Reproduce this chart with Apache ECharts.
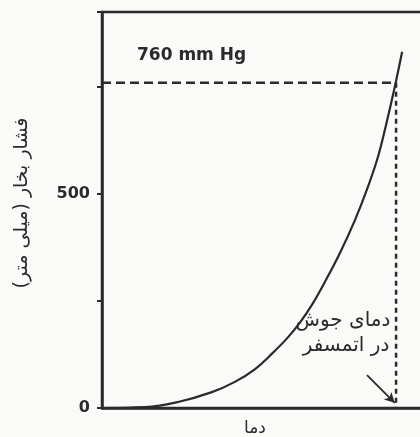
<!DOCTYPE html>
<html>
<head>
<meta charset="utf-8">
<script src="https://cdn.jsdelivr.net/npm/echarts@6/dist/echarts.min.js"></script>
<style>
html,body{margin:0;padding:0;background:#fafaf8;}
#c{width:420px;height:437px;}
</style>
</head>
<body>
<div id="c"></div>
<script>
// Data (temperature in relative units 0-100, pressure in mm Hg)
var curveTemp     = [0, 12.7, 22.5, 32.5, 39.3, 45.3, 50.3, 55.0, 58.6, 62.1, 65.7, 70.4, 74.9, 78.7, 81.7, 84.0, 86.4, 88.8];
var curvePressure = [0, 2,    14,   37,   61,   91,   127,  165,  200,  241,  291,  362,  440,  517,  588,  660,  742,  832];
var atmPressure = 760;
var boilingTemp = 87;
var yTickLabels = ['0', '500'];
var yMax = 925;
var yInterval = 250;
var arrowFrom = [78.4, 77];
var arrowTo = [86.6, 12];

var ink = '#2a2a2a';
var fa = "'DejaVu Sans', 'Noto Sans', sans-serif";

var curveData = curveTemp.map(function (t, i) { return [t, curvePressure[i]]; });

var chart = echarts.init(document.getElementById('c'), null, {renderer: 'canvas'});
chart.setOption({
  backgroundColor: '#fafaf8',
  animation: false,
  grid: {
    left: 102, right: -20, top: 12, bottom: 29,
    containLabel: false, outerBoundsMode: 'none',
    show: true, borderColor: ink, borderWidth: 2.5, backgroundColor: 'transparent'
  },
  xAxis: {
    type: 'value', min: 0, max: 100,
    axisLine: {show: true, onZero: false, lineStyle: {color: ink, width: 2.5}},
    axisTick: {show: false}, axisLabel: {show: false}, splitLine: {show: false},
    name: 'دما', nameLocation: 'middle', nameGap: 12,
    nameTextStyle: {fontFamily: fa, fontSize: 17, color: ink, padding: [0, 32, 0, 0]}
  },
  yAxis: {
    type: 'value', min: 0, max: yMax, interval: yInterval,
    axisLine: {show: true, lineStyle: {color: ink, width: 2.5}},
    axisTick: {show: true, length: 5, lineStyle: {color: ink, width: 2}},
    splitLine: {show: false},
    axisLabel: {
      margin: 12, color: ink, fontFamily: "'DejaVu Sans', sans-serif", fontWeight: 'bold', fontSize: 16,
      formatter: function (v) { var s = String(v); return yTickLabels.indexOf(s) >= 0 ? s : ''; }
    },
    name: 'فشار بخار (میلی متر)', nameLocation: 'middle', nameGap: 70, nameRotate: 90,
    nameTextStyle: {fontFamily: fa, fontSize: 19, color: ink, padding: [0, 0, 0, 14]}
  },
  series: [
    {
      type: 'line', data: curveData, smooth: 0.4, showSymbol: false,
      lineStyle: {color: ink, width: 2.2}, z: 5
    },
    {
      type: 'line', data: [[0, atmPressure], [boilingTemp, atmPressure]], showSymbol: false,
      lineStyle: {color: ink, width: 2.5, type: [9, 5]}, z: 4
    },
    {
      type: 'line', data: [[boilingTemp, atmPressure], [boilingTemp, 0]], showSymbol: false,
      lineStyle: {color: ink, width: 2.5, type: [5, 4]}, z: 4
    },
    {
      type: 'line', data: [], showSymbol: false,
      markLine: {
        silent: true, symbol: ['none', 'arrow'], symbolSize: [8, 10],
        lineStyle: {color: ink, width: 1.8, type: 'solid'},
        label: {show: false},
        data: [[{coord: arrowFrom}, {coord: arrowTo}]]
      }
    }
  ],
  graphic: [
    {type: 'text', left: 137, top: 47, style: {text: '760 mm Hg', fontFamily: "'DejaVu Sans', sans-serif", fontWeight: 'bold', fontSize: 17, fill: ink}},
    {type: 'text', x: 343, y: 321, style: {text: 'دمای جوش', fontFamily: fa, fontSize: 20, fill: ink, align: 'center', verticalAlign: 'middle'}},
    {type: 'text', x: 346, y: 346, style: {text: 'در اتمسفر', fontFamily: fa, fontSize: 20, fill: ink, align: 'center', verticalAlign: 'middle'}}
  ]
});
</script>
</body>
</html>
